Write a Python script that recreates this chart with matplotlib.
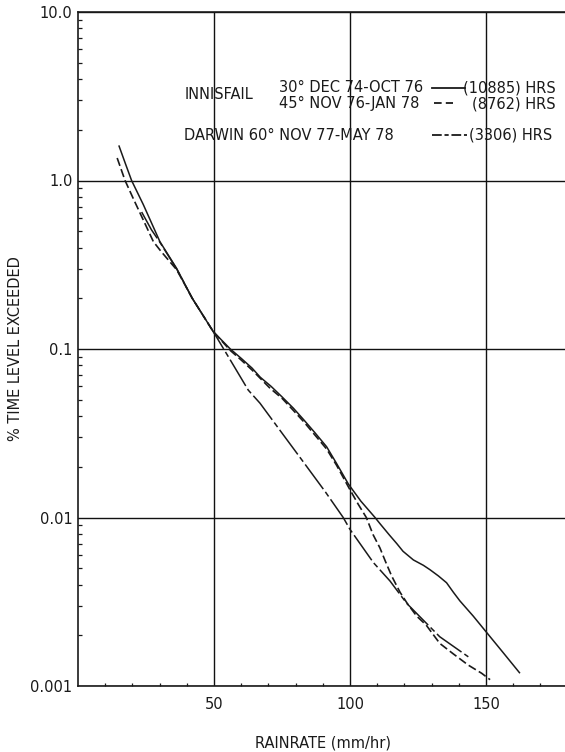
import matplotlib

matplotlib.use("Agg")
import matplotlib.pyplot as plt
from matplotlib.lines import Line2D

plt.rcParams["font.family"] = ["DejaVu Sans"]
plt.rcParams["lines.scale_dashes"] = False

# rainrate (mm/hr) vs % time level exceeded
innisfail30_x = [15.1, 17.5, 19.7, 24, 30.1, 36.3, 42, 49.7, 56, 60, 64, 67, 71, 75,
                 79.2, 83, 87, 91.4, 95, 99.4, 104, 109.2, 111, 114.4, 117.2, 119.5,
                 123.3, 127, 129.4, 132.5, 135.5, 138, 140.4, 145.3, 150, 156, 162.3]
innisfail30_y = [1.6, 1.25, 1.0, 0.72, 0.434, 0.30, 0.2, 0.127, 0.1, 0.088, 0.077,
                 0.068, 0.06, 0.052, 0.0445, 0.038, 0.032, 0.0263, 0.021, 0.0158,
                 0.0125, 0.01, 0.0092, 0.0079, 0.007, 0.0063, 0.0056, 0.0052, 0.0049,
                 0.0045, 0.0041, 0.0036, 0.0032, 0.0026, 0.0021, 0.0016, 0.0012]

innisfail45_x = [14.4, 17.3, 20.5, 24, 27.7, 30.5, 36.3, 42, 49.7, 56, 60, 64, 67,
                 70.6, 75, 79, 83, 87, 91.4, 95, 100, 103, 106, 108.5, 111, 113,
                 115.3, 118.4, 121, 124.5, 128, 133, 138, 143.5, 148.4, 151.5]
innisfail45_y = [1.36, 1.0, 0.77, 0.583, 0.434, 0.38, 0.295, 0.2, 0.127, 0.098,
                 0.086, 0.075, 0.067, 0.0585, 0.051, 0.0435, 0.037, 0.031, 0.0255,
                 0.0205, 0.0146, 0.012, 0.01, 0.0079, 0.0066, 0.0055, 0.0045,
                 0.0036, 0.0031, 0.0026, 0.0023, 0.00179, 0.00155, 0.00133, 0.00119,
                 0.00109]

darwin60_x = [23.4, 27, 30.1, 36.3, 42, 49.7, 56, 62.6, 66.9, 75, 83, 91, 97.5, 100,
              108.6, 114.7, 120.8, 126.3, 133, 138, 143.5]
darwin60_y = [0.65, 0.51, 0.43, 0.298, 0.2, 0.127, 0.086, 0.057, 0.0477, 0.0317,
              0.0212, 0.01415, 0.01, 0.0085, 0.0054, 0.0042, 0.0031, 0.00252,
              0.00196, 0.00172, 0.00149]

ytick_vals = [0.001, 0.01, 0.1, 1.0, 10.0]
ytick_labels = ["0.001", "0.01", "0.1", "1.0", "10.0"]
xtick_vals = [50, 100, 150]

INK = "#1a1a1a"
W, H = 565, 752
AX_L, AX_R, AX_T, AX_B = 78, 567.6, 12, 686

fig = plt.figure(figsize=(W / 100, H / 100), dpi=100)
ax = fig.add_axes([AX_L / W, (H - AX_B) / H, (AX_R - AX_L) / W, (AX_B - AX_T) / H])

ax.set_yscale("log")
ax.set_xlim(0, 180)
ax.set_ylim(0.001, 10.0)

ax.plot(innisfail30_x, innisfail30_y, color=INK, lw=1.1)
ax.plot(innisfail45_x, innisfail45_y, color=INK, lw=1.2, dashes=(6, 2.5))
ax.plot(darwin60_x, darwin60_y, color=INK, lw=1.1, dashes=(22, 2.5, 4, 2.5))

ax.set_xticks(xtick_vals)
ax.set_xticks(range(10, 180, 10), minor=True)
ax.set_yticks(ytick_vals, ytick_labels)
ax.grid(True, which="major", color="#111111", lw=1.0)
ax.tick_params(which="both", direction="in", labelsize=10.5, colors=INK)
ax.tick_params(axis="x", which="major", length=0, pad=8)
ax.tick_params(axis="x", which="minor", length=2.5, width=0.9)
ax.tick_params(axis="y", which="major", length=0, pad=4)
ax.tick_params(axis="y", which="minor", length=3, width=0.9)
ax.tick_params(right=False, top=False, which="both")

for side in ["left", "bottom", "top"]:
    ax.spines[side].set_linewidth(1.2)
    ax.spines[side].set_color(INK)
ax.spines["right"].set_visible(False)

ax.set_xlabel("RAINRATE (mm/hr)", fontsize=10.5, color=INK)
ax.xaxis.set_label_coords(0.5, -0.074)
ax.set_ylabel("% TIME LEVEL EXCEEDED", fontsize=10.5, color=INK)
ax.yaxis.set_label_coords(-0.112, 0.5)


# key block, placed by pixel position on the original
def fx(px):
    return (px - AX_L) / (AX_R - AX_L)


def fy(py):
    return (AX_B - py) / (AX_B - AX_T)


txt = dict(transform=ax.transAxes, fontsize=10.5, color=INK, va="baseline")
ax.text(fx(184.5), fy(99), "INNISFAIL", ha="left", **txt)
ax.text(fx(279.3), fy(92.3), "30° DEC 74-OCT 76", ha="left", **txt)
ax.text(fx(279.3), fy(108.3), "45° NOV 76-JAN 78", ha="left", **txt)
ax.text(fx(556), fy(92.3), "(10885) HRS", ha="right", **txt)
ax.text(fx(556), fy(108.3), "(8762) HRS", ha="right", **txt)
ax.text(fx(184.5), fy(140), "DARWIN 60° NOV 77-MAY 78", ha="left", **txt)
ax.text(fx(552.5), fy(140), "(3306) HRS", ha="right", **txt)

key_lines = [
    ((431.7, 464.9), 87.7, dict()),
    ((434, 453), 103, dict(dashes=(5.5, 3))),
    ((432, 467), 135, dict(dashes=(7, 2, 3, 2))),
]
for (x0, x1), yy, style in key_lines:
    ax.add_line(Line2D([fx(x0), fx(x1)], [fy(yy), fy(yy)], transform=ax.transAxes,
                       color=INK, lw=1.3, **style))

fig.savefig("out.png", dpi=100, facecolor="white")
